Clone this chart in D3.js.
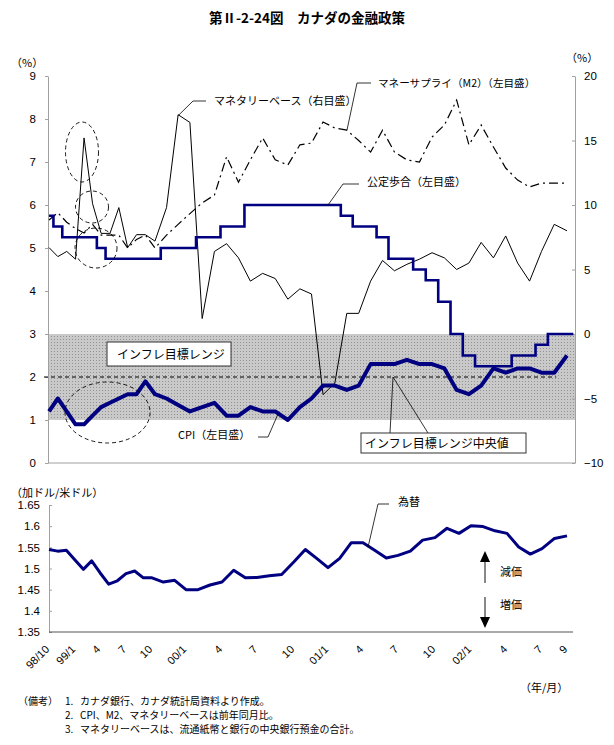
<!DOCTYPE html>
<html>
<head>
<meta charset="utf-8">
<script src="https://cdn.jsdelivr.net/npm/d3@7"></script>
<style>
body { margin: 0; background: #fff; }
svg text { font-family: "Liberation Sans", Arial, sans-serif; fill: #000; }
svg text.jp { font-family: "Noto Sans CJK JP", "Liberation Sans", sans-serif; }
</style>
</head>
<body>
<svg id="chart" width="614" height="745"></svg>
<script>
// ---- data ----
// top panel: 98/10 .. 02/8 (47 months)
let policyRate = [5.75, 5.5, 5.25, 5.25, 5.25, 5.25, 5.0, 4.75, 4.75, 4.75, 4.75, 4.75, 4.75,
    5.0, 5.0, 5.0, 5.25, 5.25, 5.5, 5.5, 6.0, 6.0, 6.0, 6.0, 6.0, 6.0, 6.0, 6.0, 5.75, 5.5, 5.5,
    5.25, 4.75, 4.75, 4.5, 4.25, 3.75, 3.0, 2.5, 2.25, 2.25, 2.25, 2.5, 2.5, 2.75, 3.0, 3.0];
let cpi = [1.2, 1.5, 1.2, 0.9, 0.9, 1.1, 1.3, 1.4, 1.5, 1.6, 1.6, 1.9, 1.6, 1.5, 1.35, 1.2, 1.3,
    1.4, 1.1, 1.1, 1.3, 1.2, 1.2, 1.0, 1.3, 1.5, 1.8, 1.8, 1.7, 1.8, 2.3, 2.3, 2.3, 2.4, 2.3, 2.3,
    2.2, 1.7, 1.6, 1.8, 2.2, 2.1, 2.2, 2.2, 2.1, 2.1, 2.5];
let monetaryBase = [6.7, 6.0, 6.4, 5.8, 15.2, 10.1, 7.8, 7.8, 9.8, 6.7, 7.7, 7.7, 7.2, 9.8, 17.0,
    16.4, 1.2, 6.4, 7.0, 5.9, 4.1, 4.7, 4.3, 2.7, 3.5, 3.1, -4.7, -3.8, 1.6, 1.6, 4.1, 5.7, 4.9,
    5.4, 5.8, 6.3, 5.9, 5.0, 5.5, 7.1, 5.9, 7.6, 5.5, 4.1, 6.4, 8.5, 8.0];
let moneySupply = [5.65, 5.82, 5.6, 5.45, 5.35, 5.55, 5.3, 5.3, 5.3, 5.0, 5.2, 5.3, 5.0, 5.3,
    5.55, 5.8, 6.05, 6.23, 7.12, 6.53, 7.05, 7.56, 7.05, 6.93, 7.4, 7.44, 7.93, 7.79, 7.74, 7.5,
    7.23, 7.74, 7.23, 7.05, 7.0, 7.58, 7.86, 8.44, 7.4, 7.86, 7.35, 6.86, 6.58, 6.42, 6.51, 6.51, 6.51];
let inflationMid = 2;
let inflationRange = [1, 3];

// bottom panel: 98/10 .. 02/9 (48 months)
let fxRate = [1.545, 1.541, 1.543, 1.52, 1.498, 1.518, 1.49, 1.463, 1.471, 1.488, 1.494, 1.478,
    1.478, 1.468, 1.472, 1.45, 1.45, 1.461, 1.468, 1.496, 1.478, 1.479, 1.483, 1.486, 1.516,
    1.545, 1.524, 1.502, 1.524, 1.561, 1.561, 1.543, 1.525, 1.531, 1.541, 1.567, 1.573, 1.595,
    1.583, 1.601, 1.599, 1.589, 1.583, 1.551, 1.534, 1.547, 1.571, 1.577];
let monthTickIdx = [0, 3, 6, 9, 12, 15, 18, 21, 24, 27, 30, 33, 36, 39, 42, 45, 47];
let monthTickLabels = ["98/10", "99/1", "4", "7", "10", "00/1", "4", "7", "10", "01/1", "4", "7",
    "10", "02/1", "4", "7", "9"];
let leftTicks = [0, 1, 2, 3, 4, 5, 6, 7, 8, 9];
let rightTicks = [-10, -5, 0, 5, 10, 15, 20];
let fxTicks = [1.35, 1.4, 1.45, 1.5, 1.55, 1.6, 1.65];

// the time axis of the original is not evenly spaced: pixel position of each tick month
let knotPx = [49, 75, 100, 126, 152, 186, 222, 257, 294, 328, 363, 398, 435, 471, 507, 542, 567];

let svg = d3.select("#chart");
let navy = "#000080";

// ---- scales ----
let topL = 48, topR = 575, topY0 = 463, topY1 = 76;
let yL = d3.scaleLinear().domain([0, 9]).range([topY0, topY1]);
let yR = d3.scaleLinear().domain([-10, 20]).range([topY0, topY1]);
let nTop = policyRate.length, nBot = fxRate.length;
let xTop = d3.scaleLinear()
    .domain(monthTickIdx.map(function(k) { return k * (nTop - 1) / (nBot - 1); }))
    .range(knotPx);
let xBot = d3.scaleLinear().domain(monthTickIdx).range(knotPx);

let botL = 49, botR = 573, botY0 = 632, botY1 = 505;
let yFx = d3.scaleLinear().domain([1.35, 1.65]).range([botY0, botY1]);

// ---- title ----
svg.append("text").attr("class", "jp")
    .attr("x", 307).attr("y", 23)
    .attr("text-anchor", "middle")
    .style("font-size", "13.5px").style("font-weight", "bold")
    .text("第Ⅱ-2-24図　カナダの金融政策");

// ---- top panel ----
let defs = svg.append("defs");
let pat = defs.append("pattern").attr("id", "dots")
    .attr("width", 3).attr("height", 3).attr("patternUnits", "userSpaceOnUse");
pat.append("rect").attr("width", 3).attr("height", 3).attr("fill", "#c9c9c9");
pat.append("rect").attr("width", 1).attr("height", 1).attr("fill", "#929292");

svg.append("rect")
    .attr("x", topL).attr("y", yL(inflationRange[1]))
    .attr("width", topR - topL)
    .attr("height", yL(inflationRange[0]) - yL(inflationRange[1]))
    .attr("fill", "url(#dots)");

// axes
let axL = svg.append("g").attr("transform", "translate(" + topL + ",0)")
    .call(d3.axisLeft(yL).tickValues(leftTicks).tickSizeInner(3).tickSizeOuter(0).tickPadding(9));
let axR = svg.append("g").attr("transform", "translate(" + topR + ",0)")
    .call(d3.axisRight(yR).tickValues(rightTicks).tickSizeInner(-3).tickSizeOuter(0).tickPadding(9));
[axL, axR].forEach(function(a) {
    a.select(".domain").attr("stroke", "#a0a0a0");
    a.selectAll(".tick line").attr("stroke", "#a0a0a0");
    a.selectAll(".tick text").style("font-size", "11.5px").style("font-family", "Liberation Sans, Arial");
});
svg.append("line").attr("x1", topL).attr("x2", topR).attr("y1", topY0).attr("y2", topY0)
    .attr("stroke", "#a0a0a0");

svg.append("text").attr("class", "jp").attr("x", 11).attr("y", 67)
    .style("font-size", "11px").text("（%）");
svg.append("text").attr("class", "jp").attr("x", 566).attr("y", 62)
    .style("font-size", "11px").text("（%）");

// inflation target midpoint
svg.append("line")
    .attr("x1", topL - 4).attr("x2", xTop(nTop - 2) + 2)
    .attr("y1", yL(inflationMid)).attr("y2", yL(inflationMid))
    .attr("stroke", "#000").attr("stroke-width", 1.2).attr("stroke-dasharray", "4,3");

// monetary base (right axis)
svg.append("path").datum(monetaryBase)
    .attr("fill", "none").attr("stroke", "#000").attr("stroke-width", 1)
    .attr("d", d3.line().x(function(d, i) { return xTop(i); }).y(function(d) { return yR(d); }));

// money supply (left axis)
svg.append("path").datum(moneySupply)
    .attr("fill", "none").attr("stroke", "#000").attr("stroke-width", 1.2)
    .attr("stroke-dasharray", "9,4,2,4")
    .attr("d", d3.line().x(function(d, i) { return xTop(i); }).y(function(d) { return yL(d); }));

// policy rate, step line reaching the right edge
let stepData = policyRate.map(function(v, i) { return [i, v]; });
stepData.push([nTop - 0.5, policyRate[nTop - 1]]);
svg.append("path").datum(stepData)
    .attr("fill", "none").attr("stroke", navy).attr("stroke-width", 2.6)
    .attr("d", d3.line().curve(d3.curveStep)
        .x(function(d) { return xTop(d[0]); }).y(function(d) { return yL(d[1]); }));

// CPI
svg.append("path").datum(cpi)
    .attr("fill", "none").attr("stroke", navy).attr("stroke-width", 4)
    .attr("stroke-linejoin", "round")
    .attr("d", d3.line().x(function(d, i) { return xTop(i); }).y(function(d) { return yL(d); }));

// dashed ellipses
let ellipses = [[82, 152, 16.5, 30], [92, 207, 16.5, 16], [96, 248, 21, 20], [107.5, 412.5, 42.5, 30.5]];
svg.append("g").selectAll("ellipse").data(ellipses).enter().append("ellipse")
    .attr("cx", function(d) { return d[0]; }).attr("cy", function(d) { return d[1]; })
    .attr("rx", function(d) { return d[2]; }).attr("ry", function(d) { return d[3]; })
    .attr("fill", "none").attr("stroke", "#000").attr("stroke-width", 0.9)
    .attr("stroke-dasharray", "4,3");

// labels and leaders
function leader(pts) {
    svg.append("path").attr("d", d3.line()(pts))
        .attr("fill", "none").attr("stroke", "#000").attr("stroke-width", 0.8);
}
function label(x, y, s, size) {
    return svg.append("text").attr("class", "jp").attr("x", x).attr("y", y)
        .style("font-size", (size || 11) + "px").text(s);
}
label(214, 105, "マネタリーベース（右目盛）");
leader([[206, 101], [193, 101], [xTop(14), yR(monetaryBase[14]) + 1]]);
label(378, 87, "マネーサプライ（M2）（左目盛）", 10.6);
leader([[371, 83], [357, 83], [347, 130]]);
label(367, 186, "公定歩合（左目盛）");
leader([[359, 184], [343, 184], [328, yL(6)]]);
label(178, 439, "CPI（左目盛）");
leader([[258, 437], [268, 437], [278, 414]]);

svg.append("rect").attr("x", 107).attr("y", 342).attr("width", 124).attr("height", 24)
    .attr("fill", "#fff").attr("stroke", "#333").attr("stroke-width", 1);
label(117, 359, "インフレ目標レンジ", 12);
leader([[393, yL(inflationMid)], [390, 433]]);
leader([[393, yL(inflationMid)], [428, 433]]);
svg.append("rect").attr("x", 361).attr("y", 433).attr("width", 165).attr("height", 20)
    .attr("fill", "#fff").attr("stroke", "#333").attr("stroke-width", 1);
label(365, 448, "インフレ目標レンジ中央値", 12);

// ---- bottom panel ----
let axFx = svg.append("g").attr("transform", "translate(" + botL + ",0)")
    .call(d3.axisLeft(yFx).tickValues(fxTicks).tickSizeInner(-3).tickSizeOuter(0).tickPadding(9)
        .tickFormat(function(d) { return String(+d.toFixed(2)); }));
axFx.select(".domain").attr("stroke", "#a0a0a0");
axFx.selectAll(".tick line").attr("stroke", "#a0a0a0");
axFx.selectAll(".tick text").style("font-size", "11.5px").style("font-family", "Liberation Sans, Arial");
svg.append("line").attr("x1", botL).attr("x2", botR).attr("y1", botY0).attr("y2", botY0)
    .attr("stroke", "#555").attr("stroke-width", 1.2);

svg.append("g").selectAll("text").data(monthTickIdx).enter().append("text")
    .attr("transform", function(d) { return "translate(" + (xBot(d) + 1) + ",650) rotate(-45)"; })
    .attr("text-anchor", "end")
    .style("font-size", "11px")
    .text(function(d, i) { return monthTickLabels[i]; });

svg.append("text").attr("class", "jp").attr("x", 11).attr("y", 497)
    .style("font-size", "11px").text("（加ドル/米ドル）");

svg.append("path").datum(fxRate)
    .attr("fill", "none").attr("stroke", navy).attr("stroke-width", 3)
    .attr("stroke-linejoin", "round")
    .attr("d", d3.line().x(function(d, i) { return xBot(i); }).y(function(d) { return yFx(d); }));

label(398, 506, "為替");
leader([[389, 504], [378, 504], [xBot(30) + 5, yFx(1.55)]]);

// appreciation / depreciation arrows
svg.append("line").attr("x1", 485).attr("x2", 485).attr("y1", 561).attr("y2", 583)
    .attr("stroke", "#888").attr("stroke-width", 2);
svg.append("path").attr("d", "M485,551 L480,562 L490,562 Z").attr("fill", "#000");
svg.append("line").attr("x1", 485).attr("x2", 485).attr("y1", 597).attr("y2", 618)
    .attr("stroke", "#888").attr("stroke-width", 2);
svg.append("path").attr("d", "M485,628 L480,617 L490,617 Z").attr("fill", "#000");
label(500, 576, "減価");
label(500, 609, "増価");

label(520, 692, "（年/月）");

// ---- notes ----
let notes = ["カナダ銀行、カナダ統計局資料より作成。",
    "CPI、M2、マネタリーベースは前年同月比。",
    "マネタリーベースは、流通紙幣と銀行の中央銀行預金の合計。"];
label(18, 705, "（備考）", 10);
notes.forEach(function(s, i) {
    label(65, 705 + i * 14, (i + 1) + ".", 10);
    label(80, 705 + i * 14, s, 10);
});
</script>
</body>
</html>
